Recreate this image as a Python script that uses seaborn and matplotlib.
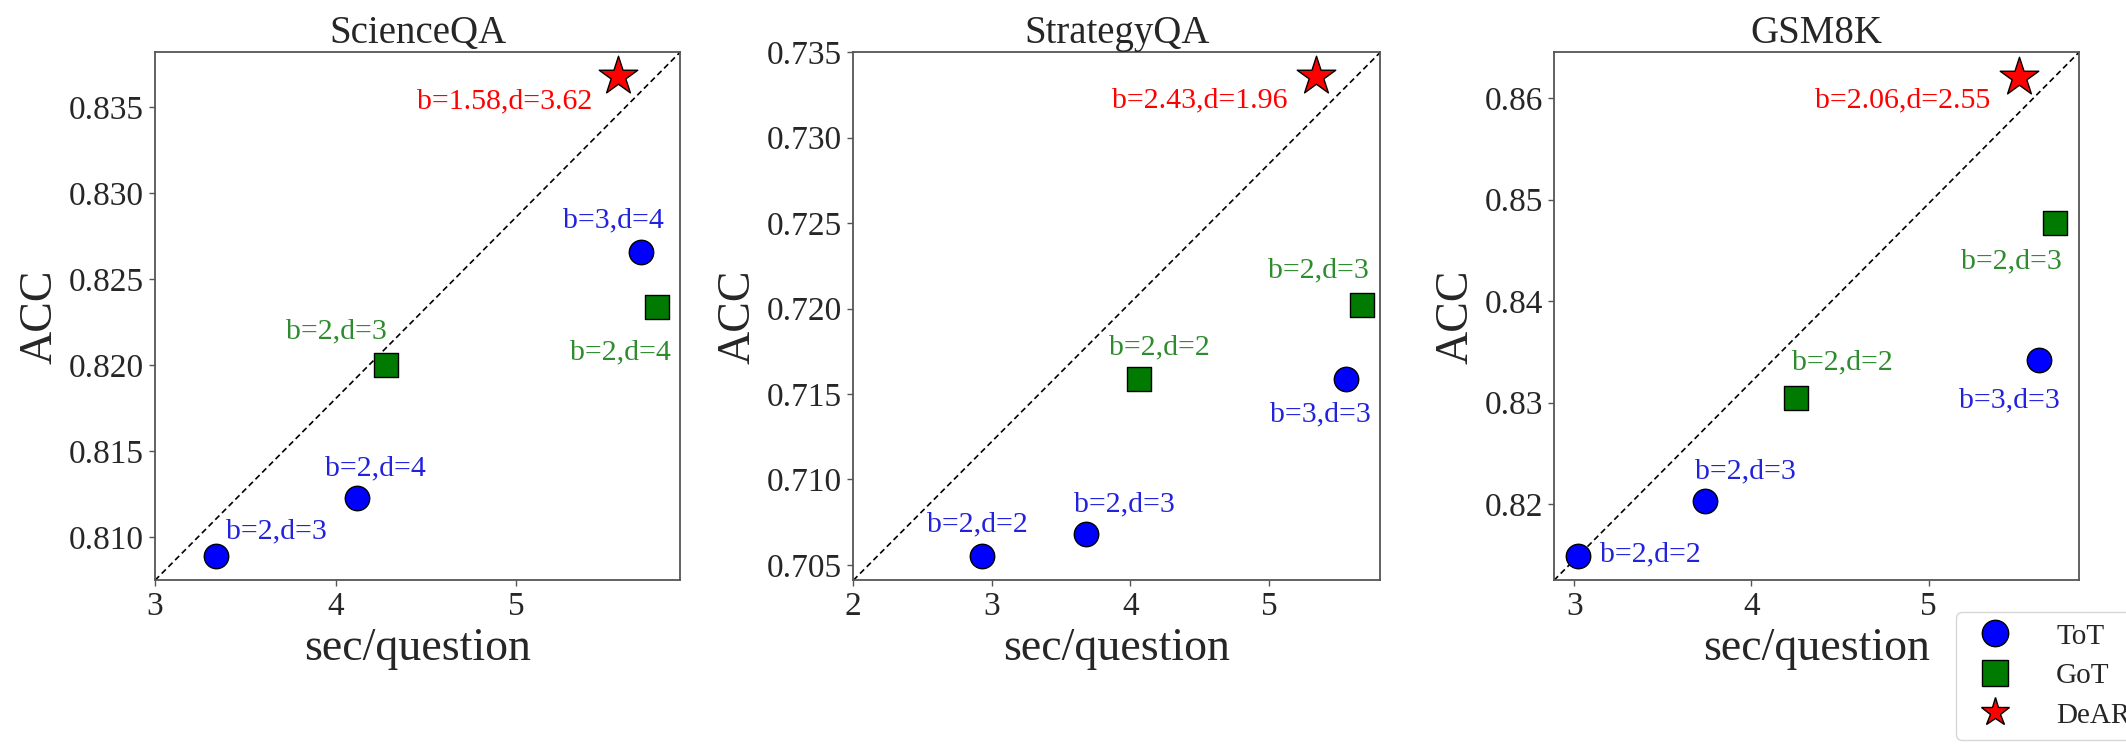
import numpy as np
import pandas as pd
import matplotlib
matplotlib.use("Agg")
import matplotlib.pyplot as plt
from matplotlib.lines import Line2D
import seaborn as sns

# ---------------- data ----------------
datasets = ["ScienceQA", "StrategyQA", "GSM8K"]
methods = ["ToT", "GoT", "DeAR"]

sci_tot_x = [3.34, 4.12, 5.69]
sci_tot_y = [0.8089, 0.8123, 0.8266]
sci_tot_lab = ["b=2,d=3", "b=2,d=4", "b=3,d=4"]
sci_got_x = [4.28, 5.78]
sci_got_y = [0.8200, 0.8234]
sci_got_lab = ["b=2,d=3", "b=2,d=4"]
sci_dear_x = [5.56]
sci_dear_y = [0.8368]
sci_dear_lab = ["b=1.58,d=3.62"]

stg_tot_x = [2.93, 3.68, 5.56]
stg_tot_y = [0.7055, 0.7068, 0.7159]
stg_tot_lab = ["b=2,d=2", "b=2,d=3", "b=3,d=3"]
stg_got_x = [4.06, 5.67]
stg_got_y = [0.7159, 0.7202]
stg_got_lab = ["b=2,d=2", "b=2,d=3"]
stg_dear_x = [5.34]
stg_dear_y = [0.7336]
stg_dear_lab = ["b=2.43,d=1.96"]

gsm_tot_x = [3.02, 3.74, 5.62]
gsm_tot_y = [0.8149, 0.8203, 0.8342]
gsm_tot_lab = ["b=2,d=2", "b=2,d=3", "b=3,d=3"]
gsm_got_x = [4.25, 5.71]
gsm_got_y = [0.8305, 0.8477]
gsm_got_lab = ["b=2,d=2", "b=2,d=3"]
gsm_dear_x = [5.51]
gsm_dear_y = [0.8621]
gsm_dear_lab = ["b=2.06,d=2.55"]

xticks = {"ScienceQA": [3, 4, 5], "StrategyQA": [2, 3, 4, 5], "GSM8K": [3, 4, 5]}
yticks = {"ScienceQA": [0.810, 0.815, 0.820, 0.825, 0.830, 0.835],
          "StrategyQA": [0.705, 0.710, 0.715, 0.720, 0.725, 0.730, 0.735],
          "GSM8K": [0.82, 0.83, 0.84, 0.85, 0.86]}
xlims = {"ScienceQA": (3.0, 5.905), "StrategyQA": (2.0, 5.804), "GSM8K": (2.886, 5.848)}
ylims = {"ScienceQA": (0.8075, 0.8382), "StrategyQA": (0.7041, 0.7350), "GSM8K": (0.8125, 0.8645)}

# label offsets in pixels (dx right, dy down), per dataset/method
label_offsets = {
    ("ScienceQA", "ToT"): [(60, -25), (18, -29), (-28, -31)],
    ("ScienceQA", "GoT"): [(-50, -34), (-37, 46)],
    ("ScienceQA", "DeAR"): [(-113, 25)],
    ("StrategyQA", "ToT"): [(-5, -32), (38, -30), (-26, 36)],
    ("StrategyQA", "GoT"): [(21, -31), (-43, -35)],
    ("StrategyQA", "DeAR"): [(-116, 24)],
    ("GSM8K", "ToT"): [(73, -2), (40, -30), (-29, 40)],
    ("GSM8K", "GoT"): [(47, -35), (-43, 38)],
    ("GSM8K", "DeAR"): [(-116, 24)],
}

rows = []
def add(ds, m, xs, ys, labs):
    for x, y, l in zip(xs, ys, labs):
        rows.append(dict(dataset=ds, method=m, time=x, acc=y, label=l))

add("ScienceQA", "ToT", sci_tot_x, sci_tot_y, sci_tot_lab)
add("ScienceQA", "GoT", sci_got_x, sci_got_y, sci_got_lab)
add("ScienceQA", "DeAR", sci_dear_x, sci_dear_y, sci_dear_lab)
add("StrategyQA", "ToT", stg_tot_x, stg_tot_y, stg_tot_lab)
add("StrategyQA", "GoT", stg_got_x, stg_got_y, stg_got_lab)
add("StrategyQA", "DeAR", stg_dear_x, stg_dear_y, stg_dear_lab)
add("GSM8K", "ToT", gsm_tot_x, gsm_tot_y, gsm_tot_lab)
add("GSM8K", "GoT", gsm_got_x, gsm_got_y, gsm_got_lab)
add("GSM8K", "DeAR", gsm_dear_x, gsm_dear_y, gsm_dear_lab)
df = pd.DataFrame(rows)

# ---------------- style ----------------
sns.set_theme(style="white")
plt.rcParams["font.family"] = ["Liberation Serif", "DejaVu Serif"]
plt.rcParams["mathtext.fontset"] = "stix"

marker_map = {"ToT": "o", "GoT": "s", "DeAR": "*"}
color_map = {"ToT": "#0000FF", "GoT": "#007A00", "DeAR": "#FF0000"}
text_color = {"ToT": "#2222DD", "GoT": "#2E8B2E", "DeAR": "#FF0000"}
size_map = {"ToT": 310, "GoT": 290, "DeAR": 850}

W, H = 2126, 744
fig = plt.figure(figsize=(W / 100, H / 100), dpi=100)
axes_px = [(155, 52.3, 525, 528), (853.3, 52.3, 527, 528), (1554, 52.3, 525, 528)]

spine_col = "#555555"
for ds, (l, t, w, h) in zip(datasets, axes_px):
    ax = fig.add_axes([l / W, 1 - (t + h) / H, w / W, h / H])
    sub = df[df.dataset == ds]
    ax.plot([0, 1], [0, 1], transform=ax.transAxes, ls="--", color="black",
            lw=1.2, dashes=(3.5, 2.2), zorder=1)
    for m in methods:
        sm = sub[sub.method == m]
        sns.scatterplot(data=sm, x="time", y="acc", marker=marker_map[m],
                        color=color_map[m], s=size_map[m], edgecolor="black",
                        linewidth=1.0, ax=ax, zorder=3, legend=False)
        for (x, y, lab), (dx, dy) in zip(sm[["time", "acc", "label"]].values,
                                         label_offsets[(ds, m)]):
            ax.annotate(lab, (x, y), xytext=(dx * 0.72, -dy * 0.72),
                        textcoords="offset points", ha="center", va="center",
                        color=text_color[m], fontsize=21.5)
    ax.set_xlim(*xlims[ds])
    ax.set_ylim(*ylims[ds])
    ax.set_xticks(xticks[ds])
    ax.set_yticks(yticks[ds])
    ax.ticklabel_format(axis="y", useOffset=False)
    ax.tick_params(axis="both", which="major", labelsize=24, length=4,
                   width=1.0, color=spine_col, direction="out",
                   bottom=True, left=True, pad=4)
    for sp in ax.spines.values():
        sp.set_color(spine_col)
        sp.set_linewidth(1.3)
    ax.set_title(ds, fontsize=28, pad=7)
    ax.set_xlabel("sec/question", fontsize=33, labelpad=4)
    ax.set_ylabel("ACC", fontsize=33, labelpad=5)

handles = [Line2D([], [], ls="none", marker=marker_map[m], markersize=19 if m != "DeAR" else 21,
                  markerfacecolor=color_map[m], markeredgecolor="black",
                  markeredgewidth=1.0, label=m) for m in methods]
fig.legend(handles=handles, loc="upper left",
           bbox_to_anchor=(1956 / W, 1 - 612 / H), borderaxespad=0,
           fontsize=21, frameon=True, handletextpad=1.15, labelspacing=0.45,
           borderpad=0.38, handlelength=1.9, edgecolor="#cccccc")

fig.savefig("out.png", dpi=100)
